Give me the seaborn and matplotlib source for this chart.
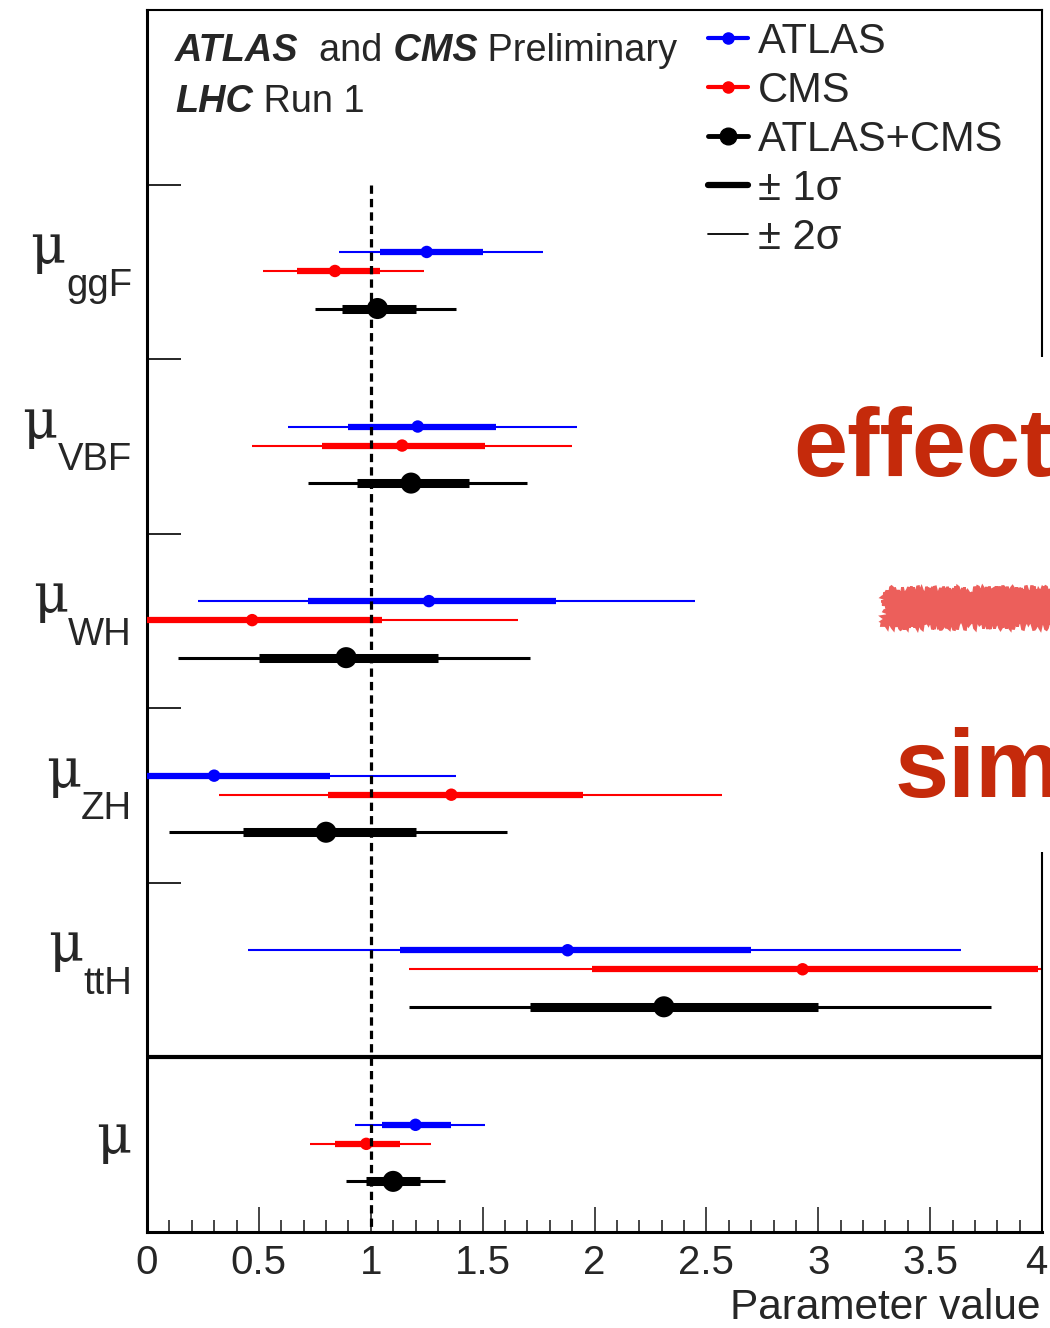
import matplotlib
matplotlib.use("Agg")
import matplotlib.pyplot as plt
import matplotlib.transforms as mtransforms
from matplotlib.lines import Line2D
from matplotlib.patches import Rectangle
from matplotlib.ticker import MultipleLocator, FuncFormatter
import pandas as pd
import seaborn as sns

# ---------------------------------------------------------------- data
parameters = ["ggF", "VBF", "WH", "ZH", "ttH", ""]   # last row: global mu
experiments = ["ATLAS", "CMS", "ATLAS+CMS"]

atlas_best = [1.25, 1.21, 1.26, 0.30, 1.88, 1.20]
atlas_lo1 = [1.04, 0.90, 0.72, -0.15, 1.13, 1.05]
atlas_hi1 = [1.50, 1.56, 1.83, 0.82, 2.70, 1.36]
atlas_lo2 = [0.86, 0.63, 0.23, -0.55, 0.45, 0.93]
atlas_hi2 = [1.77, 1.92, 2.45, 1.38, 3.64, 1.51]

cms_best = [0.84, 1.14, 0.47, 1.36, 2.93, 0.98]
cms_lo1 = [0.67, 0.78, -0.07, 0.81, 1.99, 0.84]
cms_hi1 = [1.04, 1.51, 1.05, 1.95, 3.98, 1.13]
cms_lo2 = [0.52, 0.47, -0.55, 0.32, 1.17, 0.73]
cms_hi2 = [1.24, 1.90, 1.66, 2.57, 4.90, 1.27]

comb_best = [1.03, 1.18, 0.89, 0.80, 2.31, 1.10]
comb_lo1 = [0.87, 0.94, 0.50, 0.43, 1.71, 0.98]
comb_hi1 = [1.20, 1.44, 1.30, 1.20, 3.00, 1.22]
comb_lo2 = [0.75, 0.72, 0.14, 0.10, 1.17, 0.89]
comb_hi2 = [1.38, 1.70, 1.71, 1.61, 3.77, 1.33]

x_ticks = [0, 0.5, 1, 1.5, 2, 2.5, 3, 3.5, 4]
sm_value = 1.0

# ---------------------------------------------------------------- style
colors = {"ATLAS": "#0000ff", "CMS": "#ff0000", "ATLAS+CMS": "#000000"}
thin_lw = {"ATLAS": 1.5, "CMS": 1.5, "ATLAS+CMS": 2.2}
thick_lw = {"ATLAS": 4.5, "CMS": 4.5, "ATLAS+CMS": 6.5}
dot_size = {"ATLAS": 80, "CMS": 80, "ATLAS+CMS": 230}
row_offset = {"ATLAS": 0.386, "CMS": 0.495, "ATLAS+CMS": 0.71}
mu_font = ["DejaVu Serif", "Liberation Serif"]

sns.set_theme(style="ticks")
plt.rcParams["font.family"] = ["Liberation Sans", "DejaVu Sans"]
plt.rcParams["axes.facecolor"] = "white"

W, H = 1050, 1328
fig = plt.figure(figsize=(W / 100, H / 100), dpi=100)
fig.patch.set_facecolor("white")
ax = fig.add_axes([147 / W, 1 - 1232 / H, (1042 - 147) / W, (1232 - 10) / H])

# ---------------------------------------------------------------- table
records = []
series = {
    "ATLAS": (atlas_best, atlas_lo1, atlas_hi1, atlas_lo2, atlas_hi2),
    "CMS": (cms_best, cms_lo1, cms_hi1, cms_lo2, cms_hi2),
    "ATLAS+CMS": (comb_best, comb_lo1, comb_hi1, comb_lo2, comb_hi2),
}
for exp in experiments:
    best, lo1, hi1, lo2, hi2 = series[exp]
    for i, p in enumerate(parameters):
        records.append(dict(experiment=exp, parameter=p, best=best[i],
                            lo1=lo1[i], hi1=hi1[i], lo2=lo2[i], hi2=hi2[i],
                            y=i + 1 + row_offset[exp]))
df = pd.DataFrame(records)

# ---------------------------------------------------------------- bars
for exp in experiments:
    d = df[df.experiment == exp]
    ax.hlines(d.y, d.lo2, d.hi2, color=colors[exp], lw=thin_lw[exp], zorder=2)
    ax.hlines(d.y, d.lo1, d.hi1, color=colors[exp], lw=thick_lw[exp], zorder=3)

sns.scatterplot(data=df, x="best", y="y", hue="experiment", palette=colors,
                size="experiment", sizes=dot_size, legend=False,
                linewidth=0, ax=ax, zorder=4)

# SM reference and separator
ax.vlines(sm_value, 1, len(parameters) + 1, color="black", lw=2.3,
          linestyles=(0, (2.6, 1.6)), zorder=5)
ax.axhline(len(parameters), color="black", lw=3, zorder=5)

# ---------------------------------------------------------------- axes
ax.set_xlim(0, 4)
ax.set_ylim(len(parameters) + 1, 0)
ax.set_xlabel("")
ax.set_ylabel("")
ax.set_yticks(range(1, len(parameters)))
ax.tick_params(axis="y", direction="in", length=24.5, width=1.4,
               labelleft=False, left=True, right=False)
ax.set_xticks(x_ticks)
ax.xaxis.set_minor_locator(MultipleLocator(0.1))
ax.xaxis.set_major_formatter(FuncFormatter(lambda v, _: f"{v:g}"))
ax.tick_params(axis="x", which="major", direction="in", length=18, width=1.2,
               labelsize=29, pad=9, top=False, bottom=True)
ax.tick_params(axis="x", which="minor", direction="in", length=9, width=1.2,
               top=False, bottom=True)
for side, lw in (("left", 2.2), ("bottom", 2.2), ("top", 1.5), ("right", 1.5)):
    ax.spines[side].set_linewidth(lw)
    ax.spines[side].set_color("black")
ax.grid(False)

# keep the last tick label inside the canvas
last_lbl = ax.xaxis.get_major_ticks()[len(x_ticks) - 1].label1
last_lbl.set_transform(last_lbl.get_transform()
                       + mtransforms.ScaledTranslation(-6 / 100, 0,
                                                       fig.dpi_scale_trans))

fig.text(1040 / W, 1 - 1308 / H, "Parameter value", ha="right", va="center",
         fontsize=30.5)

# ---------------------------------------------------------------- row labels
lab_tr = mtransforms.blended_transform_factory(ax.transAxes, ax.transData)
for i, p in enumerate(parameters):
    top = i + 1
    if p:
        sub = ax.text(-15 / 895, top + 0.636, p, transform=lab_tr, ha="right",
                      va="baseline", fontsize=27.5)
        ax.annotate("\u03bc", xy=(0, top + 0.45), xycoords=(sub, "data"),
                    ha="right", va="baseline", fontsize=39,
                    family=mu_font, annotation_clip=False)
    else:
        ax.text(-16 / 895, top + 0.55, "\u03bc", transform=lab_tr, ha="right",
                va="baseline", fontsize=39, family=mu_font)


# ---------------------------------------------------------------- header
def header_line(pieces, x_px, base_px):
    prev = None
    for txt, style, weight in pieces:
        kw = dict(fontsize=27.3, style=style, weight=weight, va="baseline",
                  ha="left")
        if prev is None:
            prev = fig.text(x_px / W, 1 - base_px / H, txt, **kw)
        else:
            prev = ax.annotate(txt, xy=(1, 1 - base_px / H),
                               xycoords=(prev, "figure fraction"),
                               annotation_clip=False, **kw)


header_line([("ATLAS", "italic", "bold"), ("  and", "normal", "normal"),
             (" CMS", "italic", "bold"), (" Preliminary", "normal", "normal")],
            175, 61)
header_line([("LHC", "italic", "bold"), (" Run 1", "normal", "normal")],
            175, 112)

# ---------------------------------------------------------------- legend
handles = [
    Line2D([], [], color=colors["ATLAS"], lw=3, marker="o", ms=8),
    Line2D([], [], color=colors["CMS"], lw=3, marker="o", ms=8),
    Line2D([], [], color=colors["ATLAS+CMS"], lw=3.5, marker="o", ms=12),
    Line2D([], [], color="black", lw=4.5),
    Line2D([], [], color="black", lw=1.3),
]
labels = ["ATLAS", "CMS", "ATLAS+CMS", "\u00b1 1\u03c3", "\u00b1 2\u03c3"]
ax.legend(handles, labels, loc="upper left",
          bbox_to_anchor=(708 / W, 1 - 22 / H), bbox_transform=fig.transFigure,
          frameon=False, fontsize=30, handlelength=0.95, handletextpad=0.25,
          labelspacing=0.215, borderpad=0, borderaxespad=0)

# ---------------------------------------------------------------- stamp
fig.add_artist(Rectangle((783 / W, 1 - 852 / H), (W - 783) / W, 495 / H,
                         transform=fig.transFigure, facecolor="white",
                         edgecolor="none", zorder=10))
stamp_red = "#c52a0b"
fig.text(793 / W, 1 - 476 / H, "effect", ha="left", va="baseline",
         fontsize=70, weight="bold", color=stamp_red, zorder=11)
fig.text(895 / W, 1 - 797 / H, "sim", ha="left", va="baseline",
         fontsize=70, weight="bold", color=stamp_red, zorder=11)
scribble = Rectangle((885 / W, 1 - 625 / H), (W - 885) / W, 35 / H,
                     transform=fig.transFigure, facecolor="#ec5f5b",
                     edgecolor="#ec5f5b", lw=2, zorder=11)
scribble.set_sketch_params(scale=4, length=5, randomness=4)
fig.add_artist(scribble)

fig.savefig("out.png", dpi=100, facecolor="white")
